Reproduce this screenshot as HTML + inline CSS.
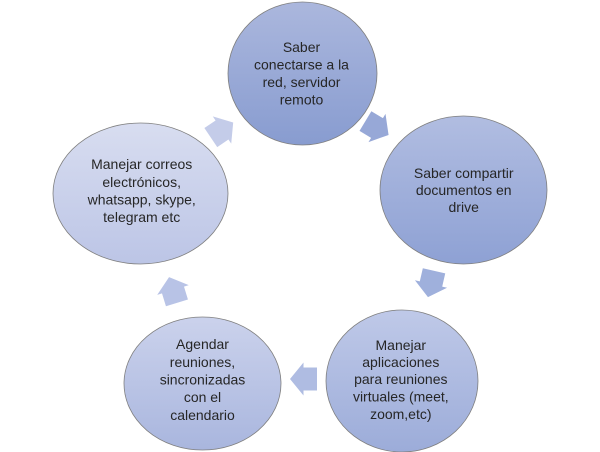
<!DOCTYPE html>
<html>
<head>
<meta charset="utf-8">
<style>
html,body{margin:0;padding:0;background:#fff;}
svg{display:block;}
text{font-family:"Liberation Sans",Arial,sans-serif;font-size:14px;fill:#262626;}
</style>
</head>
<body>
<svg width="600" height="452" viewBox="0 0 600 452" xmlns="http://www.w3.org/2000/svg">
<defs>
<linearGradient id="gTop" x1="0" y1="0" x2="0" y2="1">
<stop offset="0" stop-color="#abb7dd"/><stop offset="1" stop-color="#889cd0"/>
</linearGradient>
<linearGradient id="gRight" x1="0" y1="0" x2="0" y2="1">
<stop offset="0" stop-color="#b1bde1"/><stop offset="1" stop-color="#8ea1d4"/>
</linearGradient>
<linearGradient id="gBR" x1="0" y1="0" x2="0" y2="1">
<stop offset="0" stop-color="#bfc9e8"/><stop offset="1" stop-color="#9cacd9"/>
</linearGradient>
<linearGradient id="gBL" x1="0" y1="0" x2="0" y2="1">
<stop offset="0" stop-color="#cbd2ec"/><stop offset="1" stop-color="#a9b6de"/>
</linearGradient>
<linearGradient id="gLeft" x1="0" y1="0" x2="0" y2="1">
<stop offset="0" stop-color="#d8ddf0"/><stop offset="1" stop-color="#bcc5e6"/>
</linearGradient>
</defs>

<!-- arrows -->
<g>
<polygon transform="translate(222,130) rotate(-34)" points="-13.5,-11.5 0,-11.5 0,-16.5 13.5,0 0,16.5 0,11.5 -13.5,11.5" fill="#c4cce9"/>
<polygon transform="translate(377,128) rotate(31)" points="-13.5,-11.5 0,-11.5 0,-16.5 13.5,0 0,16.5 0,11.5 -13.5,11.5" fill="#97a8d7"/>
<polygon transform="translate(431,284) rotate(103)" points="-13.5,-11.5 0,-11.5 0,-16.5 13.5,0 0,16.5 0,11.5 -13.5,11.5" fill="#9fb0dc"/>
<polygon transform="translate(303.5,379) rotate(180)" points="-13.5,-11.5 0,-11.5 0,-16.5 13.5,0 0,16.5 0,11.5 -13.5,11.5" fill="#afbce2"/>
<polygon transform="translate(173,290) rotate(-107)" points="-13.5,-11.5 0,-11.5 0,-16.5 13.5,0 0,16.5 0,11.5 -13.5,11.5" fill="#b8c3e6"/>
</g>

<!-- circles -->
<ellipse cx="302.5" cy="73.5" rx="74.5" ry="71.5" fill="url(#gTop)" stroke="#7f7f7f" stroke-width="0.8"/>
<ellipse cx="463.5" cy="190" rx="83.5" ry="74" fill="url(#gRight)" stroke="#7f7f7f" stroke-width="0.8"/>
<ellipse cx="402" cy="381" rx="76" ry="71" fill="url(#gBR)" stroke="#7f7f7f" stroke-width="0.8"/>
<ellipse cx="202.5" cy="383.5" rx="78.5" ry="66.5" fill="url(#gBL)" stroke="#7f7f7f" stroke-width="0.8"/>
<ellipse cx="140.5" cy="193.5" rx="87.5" ry="70.5" fill="url(#gLeft)" stroke="#7f7f7f" stroke-width="0.8"/>

<!-- texts -->
<g text-anchor="middle">
<text x="301.5" y="52">Saber</text>
<text x="301.5" y="69.5">conectarse a la</text>
<text x="301.5" y="87">red, servidor</text>
<text x="301.5" y="104.5">remoto</text>

<text x="463.7" y="178">Saber compartir</text>
<text x="463.7" y="195">documentos en</text>
<text x="463.7" y="212">drive</text>

<text x="141.7" y="169">Manejar correos</text>
<text x="141.7" y="187">electrónicos,</text>
<text x="141.7" y="204.5">whatsapp, skype,</text>
<text x="141.7" y="222">telegram etc</text>

<text x="202.5" y="349">Agendar</text>
<text x="202.5" y="367">reuniones,</text>
<text x="202.5" y="384.5">sincronizadas</text>
<text x="202.5" y="402">con el</text>
<text x="202.5" y="420">calendario</text>

<text x="400.8" y="350">Manejar</text>
<text x="400.8" y="367">aplicaciones</text>
<text x="400.8" y="384">para reuniones</text>
<text x="400.8" y="401.5">virtuales (meet,</text>
<text x="400.8" y="419">zoom,etc)</text>
</g>
</svg>
</body>
</html>
